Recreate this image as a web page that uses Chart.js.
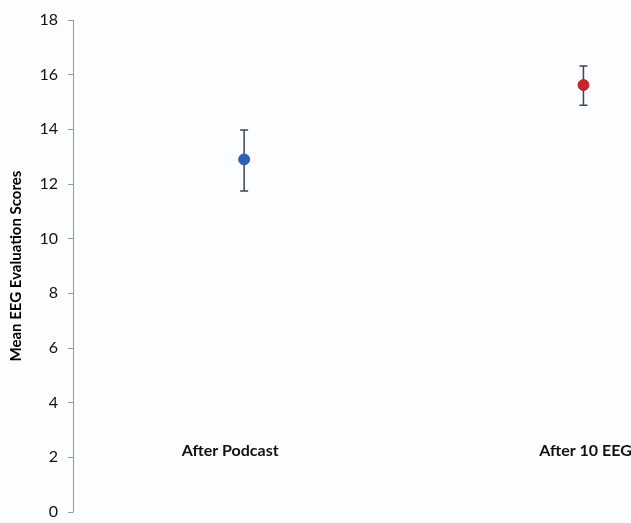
<!DOCTYPE html>
<html>
<head>
<meta charset="utf-8">
<script src="https://cdn.jsdelivr.net/npm/chart.js@4"></script>
<style>
  html, body { margin: 0; padding: 0; background: #fcfdfe; }
  canvas { display: block; }
</style>
</head>
<body>
<canvas id="eegChart" width="631" height="523"></canvas>
<script>
// values
const categories = ['After Podcast', 'After 10 EEG'];
const means = [12.9, 15.62];
const upper = [13.98, 16.32];
const lower = [11.74, 14.88];
const pointColors = ['#2c5fb9', '#c5262c'];
const yTicks = [0, 2, 4, 6, 8, 10, 12, 14, 16, 18];

// axis line, error bars and category names drawn through the chart scales
const errorBars = {
    id: 'errorBars',
    beforeDatasetsDraw(chart) {
        const ctx = chart.ctx;
        const x = chart.scales.x, y = chart.scales.y;
        ctx.save();
        ctx.strokeStyle = '#8c9ca8';
        ctx.lineWidth = 1;
        ctx.beginPath();
        ctx.moveTo(x.left + 0.5, y.getPixelForValue(y.max));
        ctx.lineTo(x.left + 0.5, y.getPixelForValue(y.min) + 0.5);
        ctx.stroke();

        ctx.strokeStyle = '#3e474d';
        ctx.lineWidth = 1.5;
        categories.forEach((c, i) => {
            const px = x.getPixelForValue(i + 1);
            const top = y.getPixelForValue(upper[i]);
            const bot = y.getPixelForValue(lower[i]);
            ctx.beginPath();
            ctx.moveTo(px, top); ctx.lineTo(px, bot);
            ctx.moveTo(px - 4, top); ctx.lineTo(px + 4, top);
            ctx.moveTo(px - 4, bot); ctx.lineTo(px + 4, bot);
            ctx.stroke();
        });
        ctx.restore();
    },
    afterDatasetsDraw(chart) {
        const ctx = chart.ctx;
        const x = chart.scales.x, y = chart.scales.y;
        ctx.save();
        ctx.font = 'bold 16px Lato, "Open Sans", sans-serif';
        ctx.fillStyle = '#111';
        ctx.textAlign = 'center';
        ctx.textBaseline = 'middle';
        categories.forEach((c, i) => {
            ctx.fillText(c, x.getPixelForValue(i + 1) - (i === 0 ? 14 : -2), y.getPixelForValue(2.25));
        });
        ctx.restore();
    }
};

new Chart(document.getElementById('eegChart'), {
    type: 'scatter',
    data: {
        datasets: [{
            data: means.map((m, i) => ({ x: i + 1, y: m })),
            pointBackgroundColor: pointColors,
            pointBorderColor: pointColors,
            pointRadius: 5.5,
            pointHoverRadius: 5.5
        }]
    },
    options: {
        responsive: false,
        animation: false,
        layout: { padding: { top: 20, right: 0, bottom: 11, left: 0 } },
        plugins: { legend: { display: false }, tooltip: { enabled: false } },
        scales: {
            x: {
                type: 'linear',
                min: 0.4956,
                max: 2.121,
                display: false
            },
            y: {
                min: 0,
                max: 18,
                afterBuildTicks: s => { s.ticks = yTicks.map(v => ({ value: v })); },
                afterFit: s => { s.width = 73; s.paddingTop = 0; s.paddingBottom = 0; },
                border: { display: false },
                grid: { drawOnChartArea: false, drawTicks: true, tickLength: 5, color: '#8c9ca8' },
                ticks: {
                    padding: 10,
                    color: '#111',
                    font: { family: 'Lato, "Open Sans", sans-serif', size: 16 }
                },
                title: {
                    display: true,
                    text: 'Mean EEG Evaluation Scores',
                    color: '#000',
                    padding: { top: 7, bottom: 0 },
                    font: { family: 'Lato, "Open Sans", sans-serif', size: 15, weight: 'bold' }
                }
            }
        }
    },
    plugins: [errorBars]
});
</script>
</body>
</html>
